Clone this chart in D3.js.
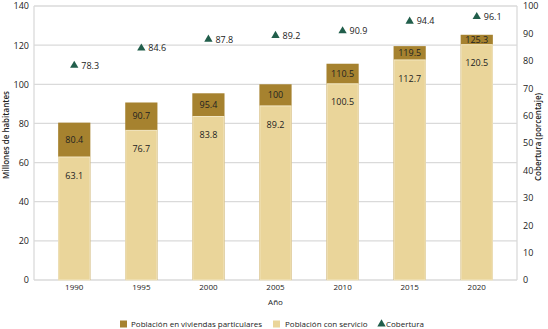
<!DOCTYPE html>
<html>
<head>
<meta charset="utf-8">
<script src="https://cdn.jsdelivr.net/npm/d3@7"></script>
<style>
  body { margin: 0; background: #fff; }
  svg text { font-family: "Open Sans", sans-serif; fill: #222; }
</style>
</head>
<body>
<div id="container"></div>
<script>
var years = ["1990", "1995", "2000", "2005", "2010", "2015", "2020"];
var poblacion = [80.4, 90.7, 95.4, 100, 110.5, 119.5, 125.3];
var conServicio = [63.1, 76.7, 83.8, 89.2, 100.5, 112.7, 120.5];
var cobertura = [78.3, 84.6, 87.8, 89.2, 90.9, 94.4, 96.1];
var leftTicks = [0, 20, 40, 60, 80, 100, 120, 140];
var rightTicks = [0, 10, 20, 30, 40, 50, 60, 70, 80, 90, 100];

var width = 548, height = 329;
var margin = { top: 6, right: 31, bottom: 49, left: 34 };
var colDark = "#a6822f", colLight = "#ead59a", colGreen = "#215e4b", colGrid = "#dadada";

var svg = d3.select("#container").append("svg")
  .attr("width", width).attr("height", height);

var x = d3.scaleBand().domain(years)
  .range([margin.left, width - margin.right])
  .paddingInner(0.52).paddingOuter(0.36);
var y = d3.scaleLinear().domain([0, 140]).range([height - margin.bottom, margin.top]);
var y2 = d3.scaleLinear().domain([0, 100]).range([height - margin.bottom, margin.top]);

// grid lines
svg.append("g").selectAll("line").data(leftTicks).join("line")
  .attr("x1", margin.left).attr("x2", width - margin.right)
  .attr("y1", function (d) { return y(d); }).attr("y2", function (d) { return y(d); })
  .attr("stroke", colGrid).attr("stroke-width", 1.3);

// frame sides
svg.append("line").attr("x1", margin.left).attr("x2", margin.left)
  .attr("y1", y(0)).attr("y2", y(140)).attr("stroke", colGrid).attr("stroke-width", 1.3);
svg.append("line").attr("x1", width - margin.right).attr("x2", width - margin.right)
  .attr("y1", y(0)).attr("y2", y(140)).attr("stroke", colGrid).attr("stroke-width", 1.3);

// left axis
var yAxis = svg.append("g").attr("transform", "translate(" + (margin.left - 5) + ",0)")
  .call(d3.axisLeft(y).tickValues(leftTicks).tickSize(0).tickPadding(0));
yAxis.select(".domain").remove();
yAxis.selectAll("text").attr("font-size", 9).attr("fill", "#333");

// right axis
var y2Axis = svg.append("g").attr("transform", "translate(" + (width - margin.right + 6) + ",0)")
  .call(d3.axisRight(y2).tickValues(rightTicks).tickSize(0).tickPadding(0));
y2Axis.select(".domain").remove();
y2Axis.selectAll("text").attr("font-size", 9).attr("fill", "#333");

// x axis
var xAxis = svg.append("g").attr("transform", "translate(0," + (y(0) + 4) + ")")
  .call(d3.axisBottom(x).tickSize(0).tickPadding(0));
xAxis.select(".domain").remove();
xAxis.selectAll("text").attr("font-size", 8).attr("fill", "#333");

// bars
var bars = svg.append("g");
bars.selectAll("rect.total").data(years).join("rect")
  .attr("class", "total")
  .attr("x", function (d) { return x(d); })
  .attr("width", x.bandwidth())
  .attr("y", function (d, i) { return y(poblacion[i]); })
  .attr("height", function (d, i) { return y(0) - y(poblacion[i]); })
  .attr("fill", colDark);
bars.selectAll("rect.serv").data(years).join("rect")
  .attr("class", "serv")
  .attr("x", function (d) { return x(d) + 0.5; })
  .attr("width", x.bandwidth() - 1)
  .attr("y", function (d, i) { return y(conServicio[i]) + 0.5; })
  .attr("height", function (d, i) { return y(0) - y(conServicio[i]) - 0.5; })
  .attr("fill", colLight).attr("stroke", "#f3e7c3").attr("stroke-width", 1);

// labels
svg.append("g").selectAll("text").data(years).join("text")
  .attr("x", function (d) { return x(d) + x.bandwidth() / 2; })
  .attr("y", function (d, i) { return (y(poblacion[i]) + y(conServicio[i])) / 2; })
  .attr("dy", "0.35em").attr("text-anchor", "middle").attr("font-size", 9)
  .text(function (d, i) { return poblacion[i]; });
svg.append("g").selectAll("text").data(years).join("text")
  .attr("x", function (d) { return x(d) + x.bandwidth() / 2; })
  .attr("y", function (d, i) { return y(conServicio[i]) + 19; })
  .attr("dy", "0.35em").attr("text-anchor", "middle").attr("font-size", 9)
  .text(function (d, i) { return conServicio[i]; });

// coverage triangles
var tri = d3.symbol().type(d3.symbolTriangle).size(30);
var cov = svg.append("g");
cov.selectAll("path").data(years).join("path")
  .attr("d", tri)
  .attr("transform", function (d, i) {
    return "translate(" + (x(d) + x.bandwidth() / 2) + "," + y2(cobertura[i]) + ")";
  })
  .attr("fill", colGreen);
cov.selectAll("text").data(years).join("text")
  .attr("x", function (d) { return x(d) + x.bandwidth() / 2 + 7; })
  .attr("y", function (d, i) { return y2(cobertura[i]); })
  .attr("dy", "0.35em").attr("font-size", 9)
  .text(function (d, i) { return cobertura[i].toFixed(1); });

// axis titles
svg.append("text")
  .attr("transform", "translate(9,135) rotate(-90)")
  .attr("text-anchor", "middle").attr("font-size", 8).attr("font-weight", 600)
  .text("Millones de habitantes");
svg.append("text")
  .attr("transform", "translate(541,137) rotate(-90)")
  .attr("text-anchor", "middle").attr("font-size", 8).attr("font-weight", 600)
  .text("Cobertura (porcentaje)");
svg.append("text")
  .attr("x", (margin.left + width - margin.right) / 2).attr("y", 302)
  .attr("dy", "0.35em").attr("text-anchor", "middle").attr("font-size", 8)
  .text("Año");

// legend
var legend = svg.append("g").attr("transform", "translate(0,324)");
legend.append("rect").attr("x", 120).attr("y", -3.5).attr("width", 7).attr("height", 7).attr("fill", colDark);
legend.append("text").attr("x", 131).attr("dy", "0.35em").attr("font-size", 8)
  .text("Población en viviendas particulares");
legend.append("rect").attr("x", 273).attr("y", -3.5).attr("width", 7).attr("height", 7).attr("fill", colLight);
legend.append("text").attr("x", 285).attr("dy", "0.35em").attr("font-size", 8)
  .text("Población con servicio");
legend.append("path").attr("d", tri).attr("transform", "translate(381.5,0)").attr("fill", colGreen);
legend.append("text").attr("x", 386).attr("dy", "0.35em").attr("font-size", 8)
  .text("Cobertura");
</script>
</body>
</html>
